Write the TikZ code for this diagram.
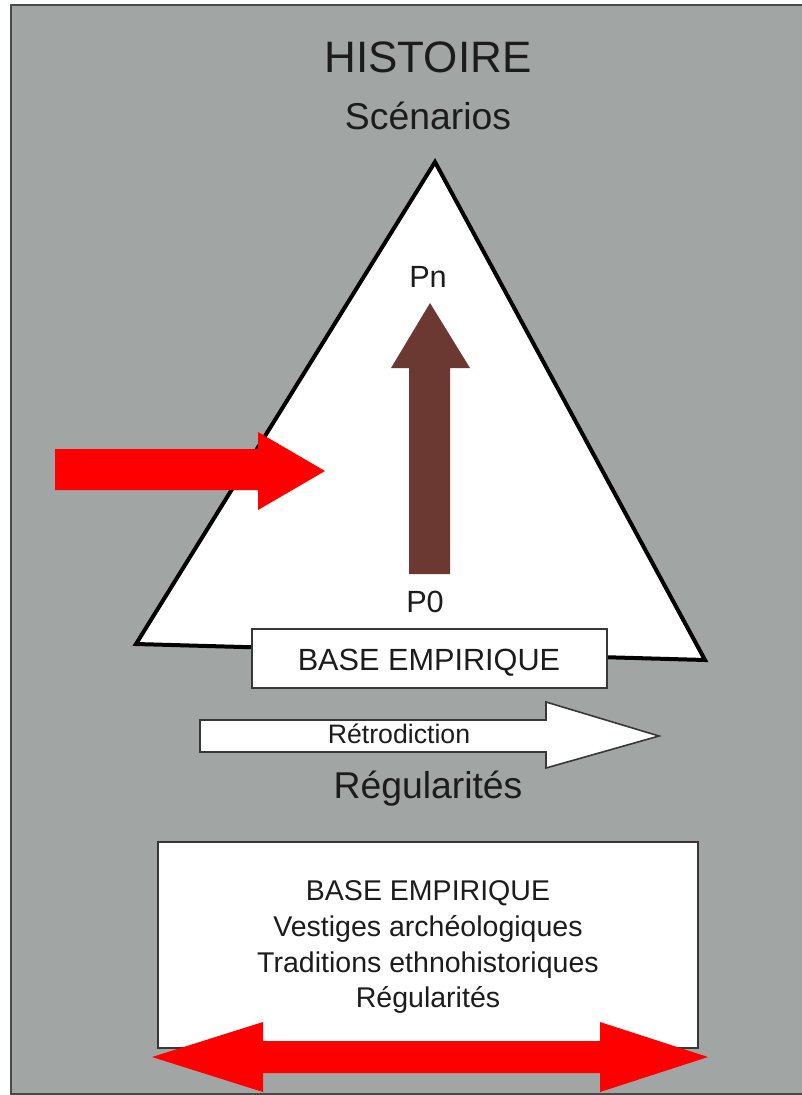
\documentclass[tikz,border=0pt]{standalone}
\usepackage{fontspec}
\setmainfont{Liberation Sans}
\definecolor{panelgray}{RGB}{161,165,164}
\definecolor{framegray}{RGB}{72,74,74}
\definecolor{boxline}{RGB}{55,55,55}
\definecolor{inkc}{RGB}{28,28,28}
\definecolor{brownarrow}{RGB}{108,56,50}
\definecolor{redarrow}{RGB}{255,0,0}
\begin{document}
\begin{tikzpicture}[x=0.75pt,y=-0.75pt,
  txt/.style={text=inkc, inner sep=0pt, anchor=base},
  sizeA/.style={font=\fontsize{33}{38}\selectfont},
  sizeB/.style={font=\fontsize{28}{33}\selectfont},
  sizeC/.style={font=\fontsize{23}{27}\selectfont},
  sizeD/.style={font=\fontsize{23}{27}\selectfont},
  sizeE/.style={font=\fontsize{20}{24}\selectfont},
  sizeF/.style={font=\fontsize{21.4}{25}\selectfont},
  whitebox/.style={fill=white, draw=boxline, line width=1.2pt},
  blockred/.style={fill=redarrow},
  blockbrown/.style={fill=brownarrow},
  blockwhite/.style={fill=white, draw=boxline, line width=1.2pt, line join=miter}]

% page and grey panel
\useasboundingbox (0,0) rectangle (802,1095);
\fill[white] (0,0) rectangle (802,1095);
\begin{scope}
  \clip (0,0) rectangle (802,1095);
  \draw[fill=panelgray, draw=framegray, line width=2.2pt] (11,5) rectangle (812,1094);
\end{scope}

% titles
\node[txt, sizeA] (histoire) at (428,73) {HISTOIRE};
\node[txt, sizeB] (scenarios) at (428,130) {Scénarios};

% triangle
\draw[fill=white, draw=black, line width=3pt, line join=miter]
  (435,162) -- (136,644) -- (705,660) -- cycle;

% brown arrow from P0 up to Pn
\fill[blockbrown] (409,574) -- (409,368) -- (391,368) -- (430,303)
  -- (470,368) -- (450,368) -- (450,574) -- cycle;
\node[txt, sizeC] (pn) at (428,287) {Pn};
\node[txt, sizeC] (pzero) at (425,612) {P0};

% red arrow entering the triangle
\fill[blockred] (55,449) -- (258,449) -- (258,432) -- (325,471)
  -- (258,510) -- (258,490) -- (55,490) -- cycle;

% base box on the triangle's foot
\draw[whitebox] (252,629) rectangle (607,688);
\node[txt, sizeD] (base) at (429,670) {BASE EMPIRIQUE};

% retrodiction arrow
\draw[blockwhite] (200,720) -- (546,720) -- (546,702) -- (659,736)
  -- (546,768) -- (546,752) -- (200,752) -- cycle;
\node[txt, sizeE] (retro) at (399,743) {Rétrodiction};

\node[txt, sizeB] (regul) at (428,798) {Régularités};

% lower box
\draw[whitebox] (158,842) rectangle (698,1048);
\node[txt, sizeF] (lbase) at (428,900) {BASE EMPIRIQUE};
\node[txt, sizeF] (lvest) at (428,936) {Vestiges archéologiques};
\node[txt, sizeF] (ltrad) at (428,972) {Traditions ethnohistoriques};
\node[txt, sizeF] (lregul) at (428,1007) {Régularités};

% double red arrow
\fill[blockred] (152,1057) -- (263,1022) -- (263,1041) -- (600,1041)
  -- (600,1022) -- (708,1057) -- (600,1092) -- (600,1073)
  -- (263,1073) -- (263,1092) -- cycle;
\end{tikzpicture}
\end{document}
